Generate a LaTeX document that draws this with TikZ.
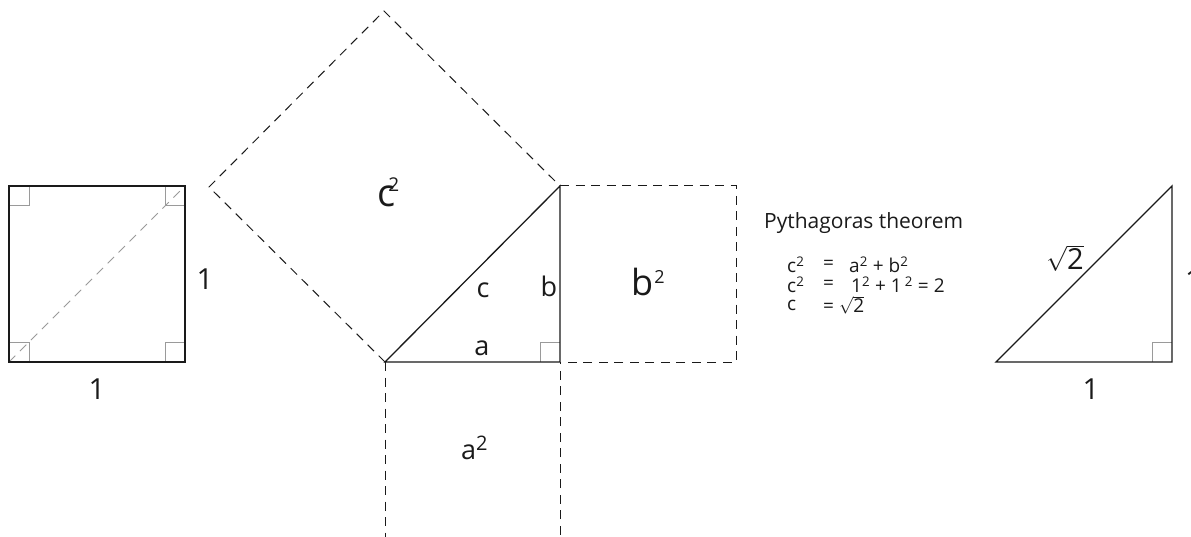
\documentclass[tikz,border=0pt]{standalone}
\usepackage{fontspec}
\setmainfont{Open Sans}
\definecolor{markgray}{HTML}{9A9A9A}
\definecolor{ink}{HTML}{1A1A1A}
\tikzset{
  blk/.style={draw=ink, line width=1.3pt, line join=miter},
  dsh/.style={draw=ink, line width=1pt, dash pattern=on 9pt off 6.5pt},
  ramark/.style={draw=markgray, line width=1pt},
  diag/.style={draw=markgray, line width=1pt, dash pattern=on 9pt off 6.5pt},
  lbl/.style={inner sep=0pt, text=ink},
}
\newcommand{\fs}[1]{\fontsize{#1}{#1}\selectfont}
\newcommand{\sq}[2]{\raisebox{#1}{\fs{#2}2}}
\begin{document}
\begin{tikzpicture}[x=1pt,y=-1pt]
\clip (0,0) rectangle (1191,537);
\fill[white] (0,0) rectangle (1191,537);

% ---- left unit square ----
\coordinate (S1) at (9,362);
\coordinate (S2) at (185,362);
\coordinate (S3) at (185,186);
\coordinate (S4) at (9,186);
\draw[ramark] (9,206) -- (29,206) -- (29,186);
\draw[ramark] (165,186) -- (165,206) -- (185,206);
\draw[ramark] (9,342) -- (29,342) -- (29,362);
\draw[ramark] (165,362) -- (165,342) -- (185,342);
\draw[diag] (S1) -- (S3);
\draw[blk] (S1) -- (S2) -- (S3) -- (S4) -- cycle;
\node[lbl, font=\fs{29}] (sqR) at (205,279) {1};
\node[lbl, font=\fs{29}] (sqB) at (97,389) {1};

% ---- main triangle and squares ----
\coordinate (A) at (385,362);
\coordinate (B) at (560,362);
\coordinate (C) at (560,186);
\coordinate (D) at (209,187);
\coordinate (E) at (384,11);
\coordinate (F) at (736,186);
\coordinate (G) at (736,362);
\coordinate (H) at (385,539);
\coordinate (I) at (560,539);

\draw[dsh] (A) -- (D) -- (E) -- (C);
\draw[dsh] (C) -- (F) -- (G) -- (B);
\draw[dsh] (A) -- (H) -- (I) -- (B);
\draw[ramark] (540,362) -- (540,342) -- (560,342);
\draw[blk] (A) -- (B) -- (C) -- cycle;

\node[lbl, font=\fs{38}, anchor=base west] (csq) at (377,207) {c\kern-7pt\sq{15pt}{19}};
\node[lbl, font=\fs{36}, anchor=base west] (bsq) at (631,296) {b\kern1pt\sq{13pt}{18}};
\node[lbl, font=\fs{27}, anchor=base west] (asq) at (461,459) {a\sq{9pt}{20}};
\node[lbl, font=\fs{27}] (lc) at (483,290) {c};
\node[lbl, font=\fs{27}] (lb) at (549,286) {b};
\node[lbl, font=\fs{27}] (la) at (482,348) {a};

% ---- text ----
\node[lbl, font=\fs{21}, anchor=west] (title) at (764,223) {Pythagoras theorem};
\node[lbl, font=\fs{19}, anchor=west] (r1a) at (787,265) {c\textsuperscript{2}};
\node[lbl, font=\fs{19}, anchor=west] (r1b) at (823,265) {=};
\node[lbl, font=\fs{19}, anchor=west] (r1c) at (849,265) {a\textsuperscript{2} + b\textsuperscript{2}};
\node[lbl, font=\fs{19}, anchor=west] (r2a) at (787,285) {c\textsuperscript{2}};
\node[lbl, font=\fs{19}, anchor=west] (r2b) at (823,285) {=};
\node[lbl, font=\fs{19}, anchor=west] (r2c) at (851,285) {1\textsuperscript{2} + 1\,\textsuperscript{2} = 2};
\node[lbl, font=\fs{19}, anchor=west] (r3a) at (787,305) {c};
\node[lbl, font=\fs{19}, anchor=west] (r3b) at (823,305) {= $\sqrt{\mbox{2}}$};

% ---- right triangle ----
\coordinate (P) at (996,362);
\coordinate (Q) at (1172,362);
\coordinate (R) at (1172,186);
\draw[ramark] (1152,362) -- (1152,342) -- (1172,342);
\draw[blk] (P) -- (Q) -- (R) -- cycle;
\node[lbl, font=\fs{29}] (rs2) at (1065,258) {$\sqrt{\mbox{2}}$};
\node[lbl, font=\fs{29}] (rB) at (1091,389) {1};
\node[lbl, font=\fs{29}, anchor=west] (rR) at (1185,280) {1};
\end{tikzpicture}
\end{document}
